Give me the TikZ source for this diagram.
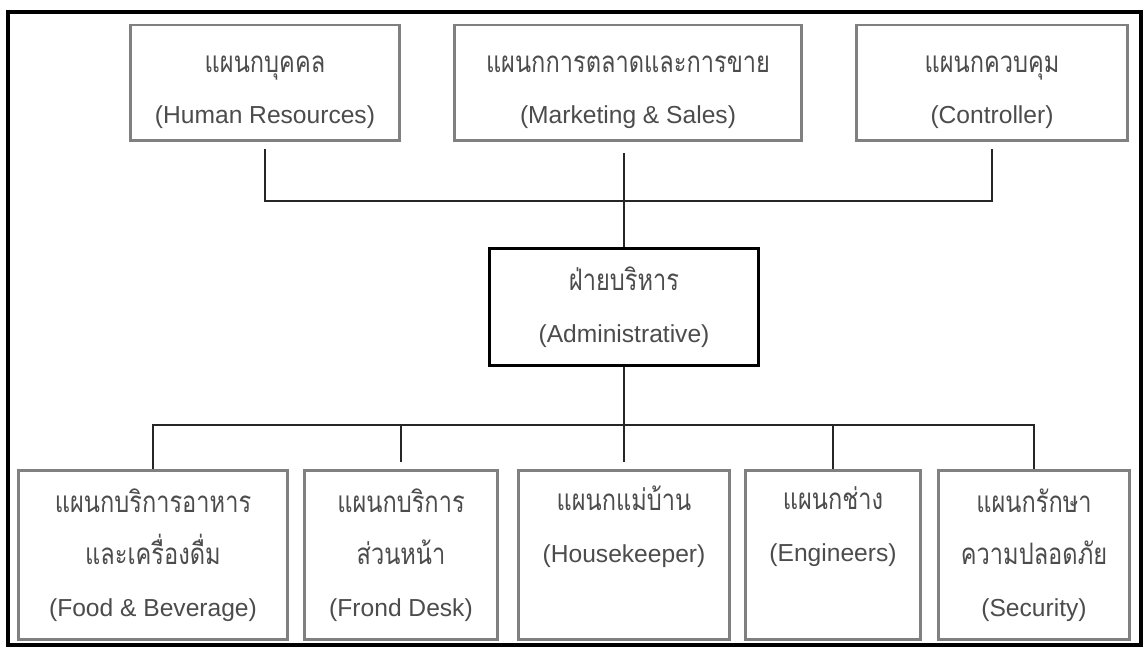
\documentclass[tikz,border=0pt]{standalone}
\usepackage{fontspec}
\setmainfont{Liberation Sans}
\newfontfamily\thaifont[Script=Thai, Scale=1.2, FakeStretch=0.8]{Loma}
\newcommand{\headstrut}{\rule{0pt}{20pt}}

\begin{document}
\begin{tikzpicture}[x=0.02cm, y=-0.02cm,
    dept/.style={draw=black!50, line width=1.7pt, fill=white, align=center,
      text=black!70, font=\fontsize{14}{29.5}\selectfont, inner sep=0pt,
      minimum height=2.32cm},
    lowdept/.style={dept, minimum height=3.4cm},
    link/.style={draw=black!85, line width=1.6pt}]
  \useasboundingbox (0,0) rectangle (1144,648);

  % outer frame
  \draw[line width=2pt] (8,12) rectangle (1141,645);

  % top row
  \node[dept, minimum width=5.4cm] (hr) at (265,83) {\headstrut{\thaifont แผนกบุคคล}\\(Human Resources)};
  \node[dept, minimum width=6.94cm] (mkt) at (628,83) {\headstrut{\thaifont แผนกการตลาดและการขาย}\\(Marketing \& Sales)};
  \node[dept, minimum width=5.42cm] (ctrl) at (992,83) {\headstrut{\thaifont แผนกควบคุม}\\(Controller)};

  % middle
  \node[dept, draw=black, minimum width=5.4cm, minimum height=2.36cm] (admin) at (624,307) {{\thaifont ฝ่ายบริหาร}\\(Administrative)};

  % bottom row
  \node[lowdept, minimum width=5.4cm] (fnb) at (153,555) {{\thaifont แผนกบริการอาหาร}\\{\thaifont และเครื่องดื่ม}\\(Food \& Beverage)};
  \node[lowdept, minimum width=3.86cm] (front) at (401,555) {{\thaifont แผนกบริการ}\\{\thaifont ส่วนหน้า}\\(Frond Desk)};
  \node[lowdept, minimum width=4.22cm] (house) at (624,555) {{\thaifont แผนกแม่บ้าน}\\(Housekeeper)\\[6pt]\mbox{}};
  \node[lowdept, minimum width=3.5cm] (eng) at (833,555) {{\thaifont แผนกช่าง}\\(Engineers)\\[6pt]\mbox{}};
  \node[lowdept, minimum width=3.84cm] (sec) at (1034,555) {{\thaifont แผนกรักษา}\\{\thaifont ความปลอดภัย}\\(Security)};

  % buses
  \coordinate (topbus) at (624,201);
  \coordinate (botbus) at (624,425);

  % upper links
  \draw[link] ([yshift=-0.14cm]hr.south) -- (hr.south |- topbus) -- (ctrl.south |- topbus) -- ([yshift=-0.14cm]ctrl.south);
  \draw[link] ([yshift=-0.22cm]admin.north |- mkt.south) -- (admin.north);

  % lower links
  \draw[link] (admin.south) -- ([yshift=0.14cm]house.north);
  \draw[link] (fnb.north) -- (fnb.north |- botbus) -- (sec.north |- botbus) -- (sec.north);
  \draw[link] (front.north |- botbus) -- ([yshift=0.14cm]front.north);
  \draw[link] (eng.north |- botbus) -- (eng.north);
\end{tikzpicture}
\end{document}
